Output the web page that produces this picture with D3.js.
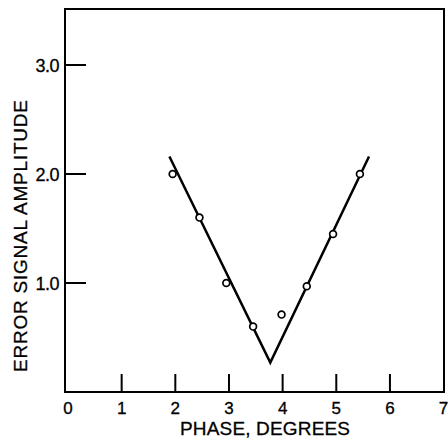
<!DOCTYPE html>
<html>
<head>
<meta charset="utf-8">
<script src="https://cdn.jsdelivr.net/npm/d3@7"></script>
<style>
  body { margin: 0; background: #fff; }
  svg text { font-family: "Liberation Sans", Arial, sans-serif; fill: #000; stroke: #000; stroke-width: 0.3px; }
</style>
</head>
<body>
<div id="chart"></div>
<script>
// measured points (phase in degrees, error signal amplitude)
var phase = [1.95, 2.45, 2.95, 3.45, 3.98, 4.45, 4.94, 5.44];
var amplitude = [2.0, 1.6, 1.0, 0.6, 0.71, 0.97, 1.45, 2.0];

// fitted V line
var fitPhase = [1.89, 3.77, 5.61];
var fitAmp = [2.16, 0.27, 2.16];

var xTicks = [1, 2, 3, 4, 5, 6];
var xLabels = [0, 1, 2, 3, 4, 5, 6, 7];
var yTicks = [1, 2, 3];

var width = 448, height = 441;
var frame = {left: 65, right: 444, top: 9, bottom: 392};

var svg = d3.select("#chart")
    .append("svg")
    .attr("width", width)
    .attr("height", height);

var x = d3.scaleLinear().domain([0, 7]).range([68, 443.6]);
var y = d3.scaleLinear().domain([0, 3]).range([frame.bottom, frame.bottom - 327]);

// frame
svg.append("rect")
    .attr("x", frame.left)
    .attr("y", frame.top)
    .attr("width", frame.right - frame.left)
    .attr("height", frame.bottom - frame.top)
    .style("fill", "none")
    .style("stroke", "#000")
    .style("stroke-width", 2);

// x ticks pointing up from the bottom edge
svg.selectAll(".xtick")
    .data(xTicks)
    .enter()
    .append("line")
    .attr("x1", function(d) { return x(d); })
    .attr("x2", function(d) { return x(d); })
    .attr("y1", frame.bottom)
    .attr("y2", frame.bottom - 18)
    .style("stroke", "#000")
    .style("stroke-width", 2);

svg.selectAll(".xlabel")
    .data(xLabels)
    .enter()
    .append("text")
    .attr("x", function(d) { return x(d); })
    .attr("y", 414)
    .style("text-anchor", "middle")
    .style("font-size", "17px")
    .text(function(d) { return d; });

// y ticks pointing right from the left edge
svg.selectAll(".ytick")
    .data(yTicks)
    .enter()
    .append("line")
    .attr("x1", frame.left)
    .attr("x2", frame.left + 21)
    .attr("y1", function(d) { return y(d); })
    .attr("y2", function(d) { return y(d); })
    .style("stroke", "#000")
    .style("stroke-width", 2);

svg.selectAll(".ylabel")
    .data(yTicks)
    .enter()
    .append("text")
    .attr("x", 59)
    .attr("y", function(d) { return y(d) + 6.5; })
    .style("text-anchor", "end")
    .style("font-size", "18px")
    .style("letter-spacing", "-0.5px")
    .text(function(d) { return d.toFixed(1); });

// fitted line
var line = d3.line()
    .x(function(d) { return x(d[0]); })
    .y(function(d) { return y(d[1]); });

svg.append("path")
    .datum(d3.zip(fitPhase, fitAmp))
    .attr("d", line)
    .style("fill", "none")
    .style("stroke", "#000")
    .style("stroke-width", 2.5);

// data circles
svg.selectAll(".pt")
    .data(d3.zip(phase, amplitude))
    .enter()
    .append("circle")
    .attr("cx", function(d) { return x(d[0]); })
    .attr("cy", function(d) { return y(d[1]); })
    .attr("r", 3.4)
    .style("fill", "#fff")
    .style("stroke", "#000")
    .style("stroke-width", 1.7);

// axis titles
svg.append("text")
    .attr("x", 265)
    .attr("y", 435)
    .attr("textLength", 170)
    .style("text-anchor", "middle")
    .style("font-size", "19px")
    .text("PHASE, DEGREES");

svg.append("text")
    .attr("transform", "translate(27,236) rotate(-90)")
    .attr("textLength", 272)
    .style("text-anchor", "middle")
    .style("font-size", "19px")
    .text("ERROR SIGNAL AMPLITUDE");
</script>
</body>
</html>
